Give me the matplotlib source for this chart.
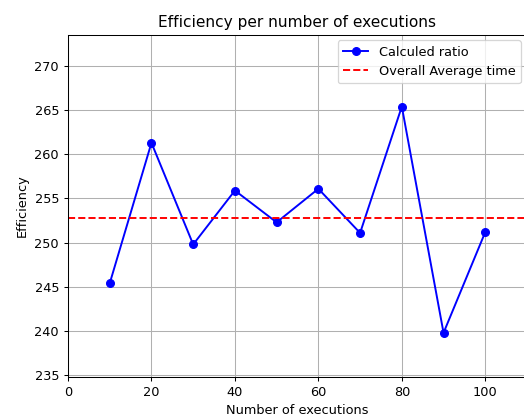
import numpy as np
import matplotlib
matplotlib.use("Agg")
import matplotlib.pyplot as plt

executions = [10, 20, 30, 40, 50, 60, 70, 80, 90, 100]
ratios = [245.4, 261.3, 249.8, 255.9, 252.3, 256.1, 251.1, 265.4, 239.8, 251.2]
average = np.mean(ratios)

W, H = 524, 417
DPI = 92.5
fig = plt.figure(figsize=(W / DPI, H / DPI), dpi=DPI)
left, right, top, bottom = 68, 527, 35, 377
ax = fig.add_axes([left / W, (H - bottom) / H, (right - left) / W, (bottom - top) / H])

ax.plot(executions, ratios, color="blue", marker="o", label="Calculed ratio")
ax.axhline(average, color="red", linestyle="--", label="Overall Average time")

ax.set_xlim(0, 110)
ax.set_ylim(234.8, 273.5)
ax.set_xticks([0, 20, 40, 60, 80, 100])
ax.set_yticks([235, 240, 245, 250, 255, 260, 265, 270])
ax.grid(True)

ax.set_title("Efficiency per number of executions")
ax.set_xlabel("Number of executions")
ax.set_ylabel("Efficiency")
ax.legend(loc="upper right", bbox_to_anchor=(527 / W, (H - 34) / H),
          bbox_transform=fig.transFigure)

fig.savefig("out.png", dpi=DPI)
